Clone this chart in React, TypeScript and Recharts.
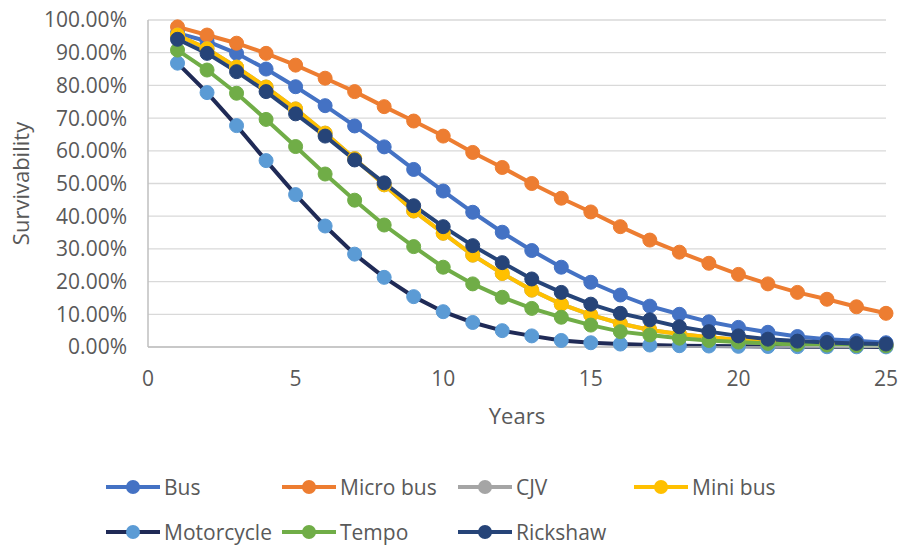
import React from 'react';
import { LineChart, Line, XAxis, YAxis, CartesianGrid, Label } from 'recharts';

const years = [1, 2, 3, 4, 5, 6, 7, 8, 9, 10, 11, 12, 13, 14, 15, 16, 17, 18, 19, 20, 21, 22, 23, 24, 25];
const xTicks = [0, 5, 10, 15, 20, 25];
const yTicks = [0, 10, 20, 30, 40, 50, 60, 70, 80, 90, 100];

const bus = [96.0, 93.5, 89.8, 85.0, 79.6, 73.8, 67.6, 61.2, 54.3, 47.7, 41.2, 35.1, 29.5, 24.4, 19.8, 15.9, 12.5, 10.0, 7.7, 6.0, 4.5, 3.2, 2.4, 1.9, 1.3];
const microBus = [97.9, 95.4, 92.9, 89.8, 86.2, 82.2, 78.1, 73.5, 69.1, 64.5, 59.5, 54.9, 50.0, 45.5, 41.3, 36.8, 32.7, 29.0, 25.6, 22.2, 19.3, 16.7, 14.6, 12.3, 10.3];
const cjv = [95.4, 91.2, 85.6, 79.5, 72.8, 65.4, 57.6, 49.6, 41.6, 34.8, 28.1, 22.5, 17.4, 13.1, 9.8, 7.2, 5.2, 4.0, 3.0, 2.2, 1.6, 1.2, 0.9, 0.7, 0.5];
const miniBus = [95.4, 91.2, 85.6, 79.5, 72.8, 65.4, 57.6, 49.6, 41.6, 34.8, 28.1, 22.5, 17.4, 13.1, 9.8, 7.2, 5.2, 4.0, 3.0, 2.2, 1.6, 1.2, 0.9, 0.7, 0.5];
const motorcycle = [86.8, 77.8, 67.7, 57.0, 46.6, 37.0, 28.4, 21.3, 15.4, 10.8, 7.5, 5.0, 3.4, 2.0, 1.3, 0.9, 0.6, 0.4, 0.3, 0.2, 0.15, 0.1, 0.08, 0.05, 0.03];
const tempo = [90.8, 84.7, 77.6, 69.6, 61.3, 52.9, 44.9, 37.3, 30.7, 24.4, 19.3, 15.2, 11.8, 9.1, 6.7, 4.7, 3.7, 2.7, 2.0, 1.5, 1.1, 0.8, 0.6, 0.45, 0.35];
const rickshaw = [94.1, 89.8, 84.2, 78.1, 71.3, 64.5, 57.2, 50.2, 43.2, 36.8, 31.0, 25.8, 20.8, 16.7, 13.1, 10.3, 8.3, 6.2, 4.7, 3.4, 2.4, 1.8, 1.4, 1.1, 0.9];

const series = [
  { key: 'bus', name: 'Bus', values: bus, line: '#4472C4', dot: '#4472C4' },
  { key: 'micro', name: 'Micro bus', values: microBus, line: '#ED7D31', dot: '#ED7D31' },
  { key: 'cjv', name: 'CJV', values: cjv, line: '#A5A5A5', dot: '#A5A5A5' },
  { key: 'mini', name: 'Mini bus', values: miniBus, line: '#FFC000', dot: '#FFC000' },
  { key: 'moto', name: 'Motorcycle', values: motorcycle, line: '#1F2A56', dot: '#5B9BD5' },
  { key: 'tempo', name: 'Tempo', values: tempo, line: '#70AD47', dot: '#70AD47' },
  { key: 'rick', name: 'Rickshaw', values: rickshaw, line: '#264478', dot: '#264478' },
];

const data = years.map((y, i) => {
  const row: Record<string, number> = { year: y };
  series.forEach((s) => {
    row[s.key] = s.values[i];
  });
  return row;
});

const FONT = '"Open Sans", sans-serif';
const TEXT = '#595959';

export default function App() {
  return (
    <div style={{ position: 'relative', width: 900, height: 547, fontFamily: FONT, overflow: 'hidden' }}>
      <style>{'html,body{margin:0;padding:0;overflow:hidden;}'}</style>
      <LineChart
        width={900}
        height={547}
        data={data}
        margin={{ top: 20, right: 14, left: 0, bottom: 123 }}
      >
        <CartesianGrid vertical={false} stroke="#D9D9D9" strokeWidth={1.3} />
        <XAxis
          dataKey="year"
          type="number"
          domain={[0, 25]}
          ticks={xTicks}
          tickLine={false}
          tickMargin={18}
          height={77}
          stroke="#BFBFBF"
          strokeWidth={1.5}
          tick={{ fill: TEXT, fontSize: 21, fontFamily: FONT }}
        >
          <Label value="Years" position="insideBottom" offset={0} fill={TEXT} fontSize={22} fontFamily={FONT} />
        </XAxis>
        <YAxis
          type="number"
          domain={[0, 100]}
          ticks={yTicks}
          width={148}
          tickLine={false}
          tickMargin={15}
          stroke="#BFBFBF"
          strokeWidth={1.5}
          tickFormatter={(v: number) => `${v.toFixed(2)}%`}
          tick={{ fill: TEXT, fontSize: 21, fontFamily: FONT }}
        >
          <Label
            content={(props: any) => {
              const vb = props.viewBox || { x: 0, y: 0, width: 0, height: 0 };
              const cx = vb.x + 20;
              const cy = vb.y + vb.height / 2;
              return (
                <text
                  x={cx}
                  y={cy}
                  transform={`rotate(-90, ${cx}, ${cy})`}
                  textAnchor="middle"
                  dominantBaseline="central"
                  fill={TEXT}
                  fontSize={22}
                  fontFamily={FONT}
                >
                  Survivability
                </text>
              );
            }}
          />
        </YAxis>
        {series.map((s) => (
          <Line
            key={s.key}
            dataKey={s.key}
            name={s.name}
            type="linear"
            stroke={s.line}
            strokeWidth={4}
            dot={{ r: 7, fill: s.dot, stroke: s.dot, strokeWidth: 1 }}
            activeDot={false}
            isAnimationActive={false}
          />
        ))}
      </LineChart>
      {series.map((s, i) => {
        const col = i < 4 ? i : i - 4;
        const row = i < 4 ? 0 : 1;
        return (
          <div
            key={s.key}
            style={{
              position: 'absolute',
              left: 106 + col * 176,
              top: 475 + row * 45,
              height: 24,
              display: 'flex',
              alignItems: 'center',
            }}
          >
            <svg width={54} height={16} style={{ flex: 'none' }}>
              <line x1={0} y1={8} x2={54} y2={8} stroke={s.line} strokeWidth={4} />
              <circle cx={27} cy={8} r={7} fill={s.dot} />
            </svg>
            <span style={{ marginLeft: 4, fontSize: 21, lineHeight: '24px', color: TEXT, fontFamily: FONT, whiteSpace: 'nowrap' }}>
              {s.name}
            </span>
          </div>
        );
      })}
    </div>
  );
}
